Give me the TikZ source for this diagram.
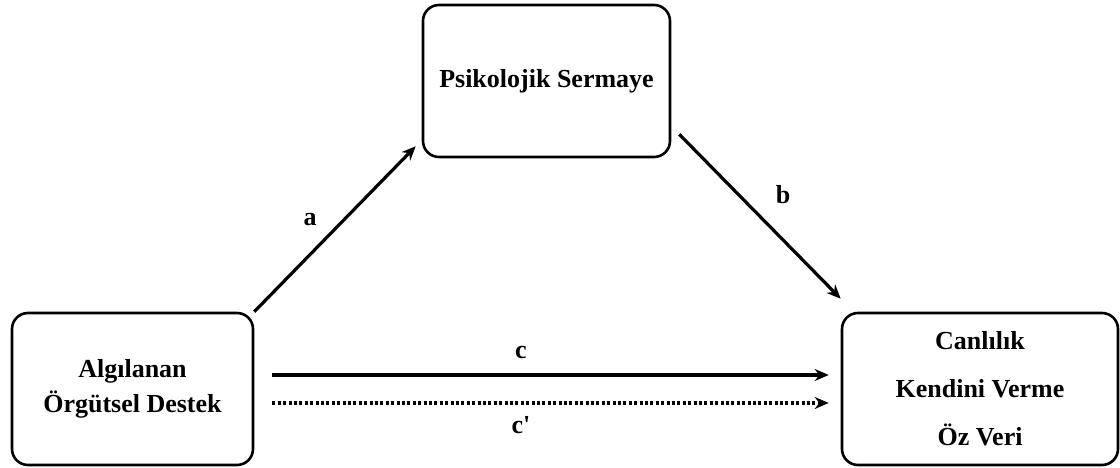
\documentclass[tikz,border=0pt]{standalone}
\usepackage{fontspec}
\setmainfont{Liberation Serif}
\usetikzlibrary{arrows.meta}
\begin{document}
\begin{tikzpicture}[x=1pt,y=1pt,
  box/.style={draw=black, line width=2.6pt, rounded corners=16pt, fill=white,
    inner sep=0pt, minimum height=152pt, align=center,
    font=\fontsize{26}{35}\selectfont\bfseries},
  link/.style={line width=3.2pt, -{Stealth[length=14pt,width=12pt]}},
  dotlink/.style={link, dash pattern=on 3pt off 2.4pt},
  lbl/.style={font=\fontsize{26}{30}\selectfont\bfseries, inner sep=0pt}]
\useasboundingbox (0,0) rectangle (1120,468);
% boxes
\node[box, minimum width=247pt] (psy) at (546.5,387) {Psikolojik Sermaye};
\node[box, minimum width=241pt] (aos) at (132.5,79) {Algılanan\\Örgütsel Destek};
\node[box, minimum width=276pt, font=\fontsize{26}{48}\selectfont\bfseries] (out) at (980,79) {Canlılık\\Kendini Verme\\Öz Veri};
% paths
\draw[link] (aos.north east) -- ([shift={(-6pt,12pt)}]psy.south west);
\draw[link] ([shift={(8pt,24pt)}]psy.south east) -- ([shift={(0pt,13pt)}]out.north west);
\draw[link] ([shift={(18pt,14pt)}]aos.east) -- ([shift={(-12pt,14pt)}]out.west);
\draw[dotlink] ([shift={(18pt,-14pt)}]aos.east) -- ([shift={(-12pt,-14pt)}]out.west);
% path labels
\node[lbl] (la) at (310,248) {a};
\node[lbl] (lb) at (783,273) {b};
\node[lbl] (lc) at (521,116) {c};
\node[lbl] (lcp) at (521,43) {c\textquotesingle};
\end{tikzpicture}
\end{document}
